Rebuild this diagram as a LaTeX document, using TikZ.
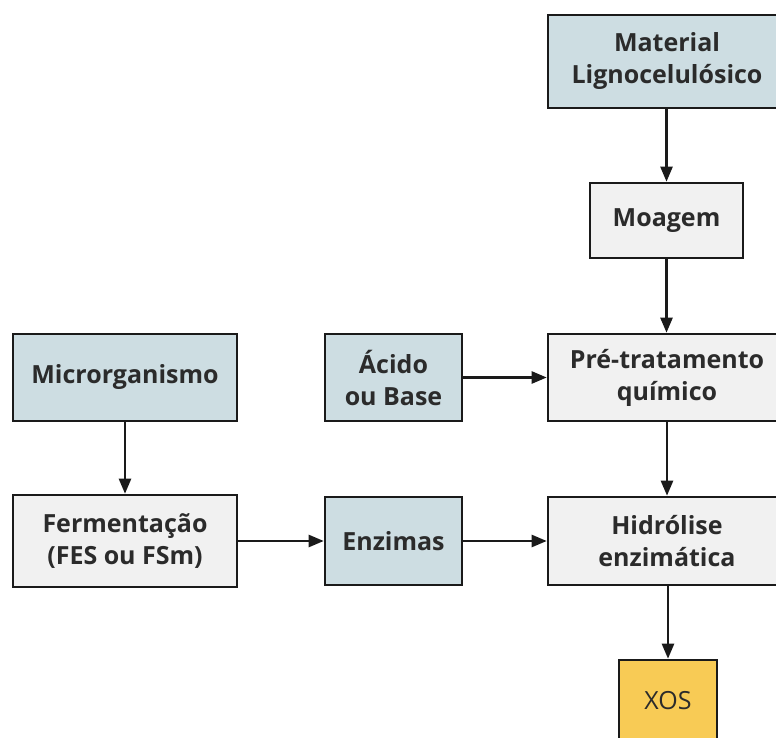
\documentclass[tikz,border=0pt]{standalone}
\usepackage{fontspec}
\setmainfont{Open Sans}
\usetikzlibrary{arrows.meta}
\definecolor{bluefill}{HTML}{CDDDE2}
\definecolor{grayfill}{HTML}{F1F1F1}
\definecolor{yellowfill}{HTML}{F8CB55}
\definecolor{txt}{HTML}{2B2B2B}
\definecolor{edge}{HTML}{1A1A1A}
\tikzset{
  box/.style={draw=edge, line width=2.6pt, rectangle, align=center, text=txt,
    font=\fontsize{25}{32}\selectfont\bfseries, inner sep=0pt},
  bluebox/.style={box, fill=bluefill},
  graybox/.style={box, fill=grayfill},
  yellowbox/.style={box, fill=yellowfill, font=\fontsize{25}{32}\selectfont},
  arr/.style={draw=edge, line width=2.4pt, -{Triangle[length=15pt,width=12pt]}}
}
\begin{document}
\begin{tikzpicture}[x=1pt,y=-1pt]
\clip (0,0) rectangle (776,738);
\useasboundingbox (0,0) rectangle (776,738);
\fill[white] (0,0) rectangle (776,738);
\node[bluebox, minimum width=238pt, minimum height=93pt] (mat) at (667,61.5) {Material\\Lignocelulósico};
\node[graybox, minimum width=153pt, minimum height=75pt] (moa) at (666.5,220.5) {Moagem};
\node[graybox, minimum width=238pt, minimum height=87pt] (pre) at (667,377.5) {Pré-tratamento\\químico};
\node[graybox, minimum width=238pt, minimum height=88pt] (hid) at (667,541) {Hidrólise\\enzimática};
\node[yellowbox, minimum width=98pt, minimum height=82pt] (xos) at (668,701) {XOS};
\node[bluebox, minimum width=137pt, minimum height=87pt] (aci) at (393.5,377.5) {Ácido\\ou Base};
\node[bluebox, minimum width=137pt, minimum height=88pt] (enz) at (393.5,541) {Enzimas};
\node[bluebox, minimum width=224pt, minimum height=87pt] (mic) at (125,377.5) {Microrganismo};
\node[graybox, minimum width=224pt, minimum height=92pt] (fer) at (125,541) {Fermentação\\(FES ou FSm)};
\draw[arr] (mat.south -| moa.north) -- (moa.north);
\draw[arr] (moa.south) -- (moa.south |- pre.north);
\draw[arr] (aci.east) -- (pre.west);
\draw[arr] (pre.south) -- (hid.north);
\draw[arr] (mic.south) -- (fer.north);
\draw[arr] (fer.east) -- (enz.west);
\draw[arr] (enz.east) -- (hid.west);
\draw[arr] (hid.south -| xos.north) -- (xos.north);
\end{tikzpicture}
\end{document}
